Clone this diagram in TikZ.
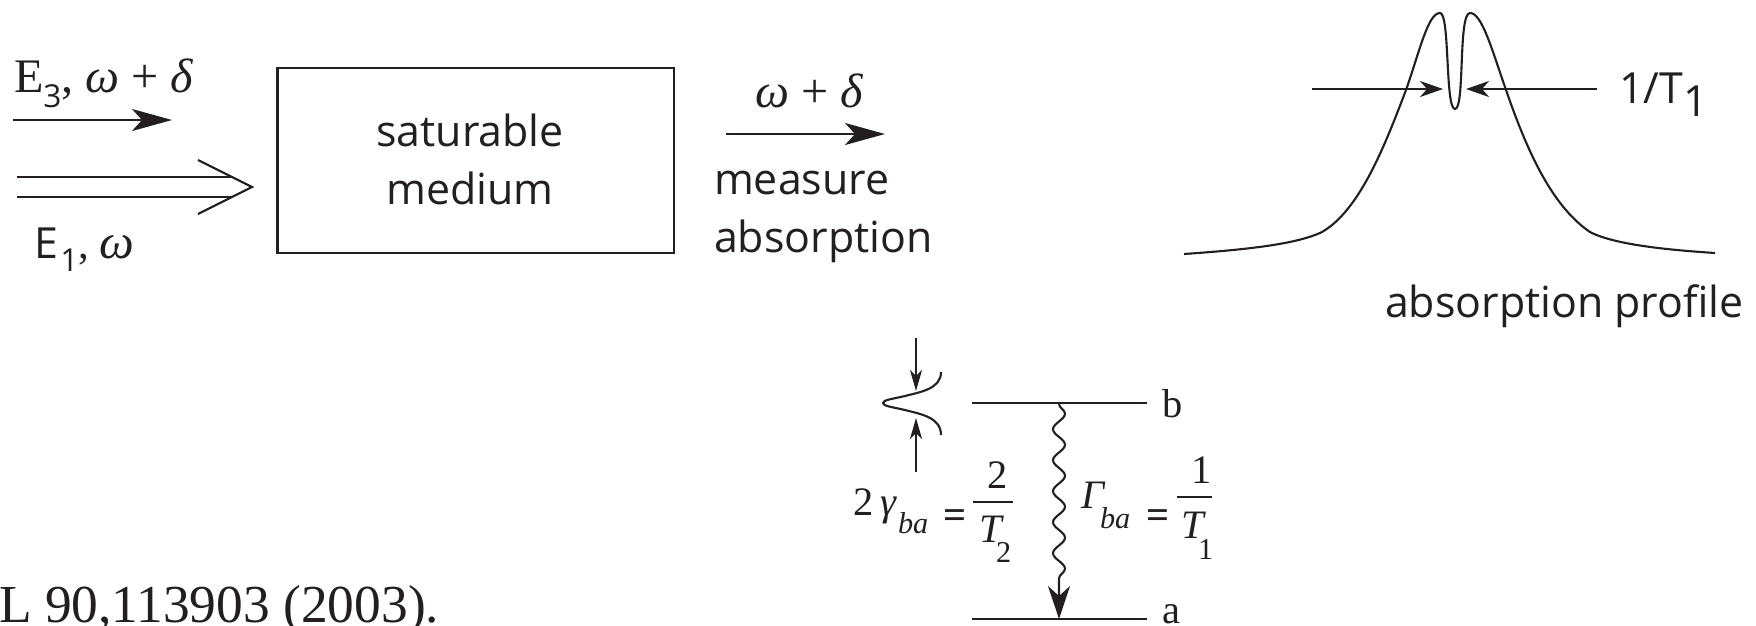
\documentclass[tikz,border=0pt]{standalone}
\usepackage{fontspec}
\usepackage{xcolor}
\usepackage{tikz}
\usetikzlibrary{arrows.meta, decorations.pathmorphing}
\setmainfont{Liberation Serif}
\setsansfont{Open Sans}
\definecolor{ink}{RGB}{35,31,32}
\newcommand{\subsans}[1]{\raisebox{-0.32em}{\sffamily #1}}

\begin{document}
\begin{tikzpicture}[
  color=ink, line width=0.6pt,
  label/.style={anchor=base west, inner sep=0pt, font=\sffamily\fontsize{12.2}{16.5}\selectfont},
  serif/.style={anchor=base west, inner sep=0pt, font=\fontsize{13.7}{16}\selectfont},
  small/.style={anchor=base west, inner sep=0pt, font=\fontsize{11.5}{13}\selectfont},
  tiny/.style={anchor=base west, inner sep=0pt, font=\fontsize{8.6}{11}\selectfont},
  medium/.style={draw, minimum width=3.965cm, minimum height=1.85cm},
  mtext/.style={align=center, inner sep=0pt, font=\sffamily\fontsize{12.2}{16.5}\selectfont},
  big/.style={-{Stealth[length=4mm, width=2.2mm, inset=1mm]}},
  mid/.style={-{Stealth[length=2.3mm, width=1.6mm, inset=0.7mm]}},
  lil/.style={-{Stealth[length=2.1mm, width=1.2mm, inset=0.6mm]}},
  wave/.style={-{Stealth[length=3.3mm, width=2.2mm, inset=1mm]},
    decorate, decoration={snake, segment length=3.1mm, amplitude=0.6mm,
    pre length=0.1mm, post length=3mm}}
]
  \useasboundingbox (0,0) rectangle (17.56,6.25);
  \clip (0,0) rectangle (17.56,6.25);

  \node[medium] (box) at (4.757,4.645) {};
  \node[mtext] (boxt) at (4.70,4.66) {saturable\\medium};

  \coordinate (e3a) at (0.13,5.05);
  \coordinate (e3b) at (1.72,5.05);
  \coordinate (e1a) at (0.17,4.48);
  \coordinate (e1b) at (2.33,4.48);
  \coordinate (e1c) at (0.17,4.28);
  \coordinate (e1d) at (2.33,4.28);
  \coordinate (tipa) at (1.98,4.65);
  \coordinate (tipb) at (2.52,4.38);
  \coordinate (tipc) at (1.98,4.11);
  \coordinate (outa) at (7.26,4.91);
  \coordinate (outb) at (8.85,4.91);

  \node[serif] (e3) at (0.13,5.33) {E\subsans{\small 3}, \textit{ω} + \textit{δ}};
  \node[label] (e1) at (0.33,3.67) {E\hspace{0.06em}\subsans{\small 1}\textrm{, {\fontsize{14}{16}\selectfont\textit{ω}}}};
  \node[serif] (omd) at (7.54,5.18) {\textit{ω} + \textit{δ}};
  \node[label] (meas) at (7.13,4.31) {measure};
  \node[label] (abso) at (7.13,3.73) {absorption};

  \draw[big] (e3a) -- (e3b);
  \draw (e1a) -- (e1b);
  \draw (e1c) -- (e1d);
  \draw (tipa) -- (tipb) -- (tipc);
  \draw[big] (outa) -- (outb);

  \coordinate (pl) at (13.12,5.36);
  \coordinate (pm) at (14.43,5.36);
  \coordinate (qm) at (14.66,5.36);
  \coordinate (qr) at (15.97,5.36);
  \draw (11.84,3.71) .. controls (12.4,3.75) and (12.95,3.8) .. (13.22,3.93)
    .. controls (13.6,4.15) and (13.85,4.8) .. (14.06,5.35)
    .. controls (14.2,5.75) and (14.28,6.12) .. (14.40,6.12)
    .. controls (14.50,6.12) and (14.45,5.16) .. (14.55,5.16)
    .. controls (14.65,5.16) and (14.58,6.12) .. (14.70,6.12)
    .. controls (14.82,6.12) and (14.92,5.75) .. (15.06,5.35)
    .. controls (15.25,4.8) and (15.5,4.2) .. (15.90,3.93)
    .. controls (16.15,3.8) and (16.7,3.75) .. (17.15,3.72);
  \draw[mid] (pl) -- (pm);
  \draw[mid] (qr) -- (qm);
  \node[label] (tone) at (16.18,5.22) {1/T\subsans{1}};
  \node[label] (prof) at (13.84,3.08) {absorption profile};

  \coordinate (ba) at (9.72,2.22);
  \coordinate (bb) at (11.47,2.22);
  \coordinate (aa) at (9.72,0.06);
  \coordinate (ab) at (11.47,0.06);
  \coordinate (bc) at (10.59,2.22);
  \coordinate (ac) at (10.59,0.06);
  \coordinate (ga) at (9.16,2.87);
  \coordinate (gb) at (9.16,2.34);
  \coordinate (gc) at (9.16,1.53);
  \coordinate (gd) at (9.16,2.07);

  \draw (ba) -- (bb);
  \draw (aa) -- (ab);
  \draw[wave] (bc) -- (ac);
  \draw[lil] (ga) -- (gb);
  \draw[lil] (gc) -- (gd);
  \draw (9.41,2.53) .. controls (9.41,2.36) and (9.2,2.33) .. (9.05,2.29)
    .. controls (8.92,2.26) and (8.83,2.25) .. (8.83,2.22)
    .. controls (8.83,2.19) and (8.92,2.18) .. (9.05,2.15)
    .. controls (9.2,2.11) and (9.41,2.08) .. (9.41,1.90);

  \node[small] (lb) at (11.61,2.08) {b};
  \node[small] (la) at (11.61,0.02) {a};
  \node[small] (twog) at (8.52,1.10) {2\,\textit{γ}};
  \node[tiny] (gba) at (8.97,0.92) {\textit{ba}};
  \node[small, font=\bfseries\fontsize{11.5}{13}\selectfont] (eqa) at (9.42,0.97) {=};
  \draw (9.73,1.23) -- (10.13,1.23);
  \node[small] (numa) at (9.86,1.37) {2};
  \node[small] (tta) at (9.78,0.83) {\textit{T}};
  \node[tiny] (tsa) at (9.95,0.625) {2};
  \node[small] (gam) at (10.80,1.17) {\textit{Γ}};
  \node[tiny] (gsb) at (10.99,0.97) {\textit{ba}};
  \node[small, font=\bfseries\fontsize{11.5}{13}\selectfont] (eqb) at (11.45,0.97) {=};
  \draw (11.77,1.28) -- (12.12,1.28);
  \node[small] (numb) at (11.90,1.42) {1};
  \node[small] (ttb) at (11.80,0.87) {\textit{T}};
  \node[tiny] (tsb) at (11.97,0.66) {1};

  \node[serif, font=\fontsize{15.2}{17}\selectfont] (cite) at (-0.02,0.03) {L 90,113903 (2003).};
\end{tikzpicture}
\end{document}
